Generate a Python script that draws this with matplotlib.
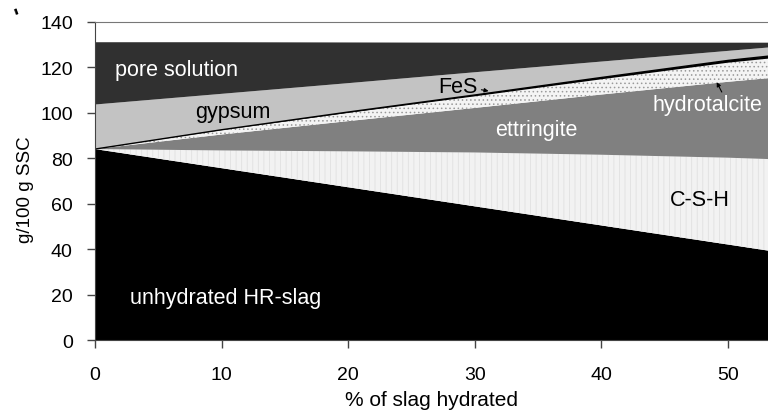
import matplotlib
matplotlib.use("Agg")
import matplotlib.pyplot as plt

plt.rcParams['font.family'] = ['Liberation Sans', 'DejaVu Sans']
plt.rcParams['hatch.linewidth'] = 0.6

# % of slag hydrated
x = [0, 10, 20, 30, 40, 50, 53.2]
# layer thicknesses, g/100 g SSC (bottom to top)
unhydrated = [84.0, 75.6, 67.2, 58.8, 50.4, 42.0, 39.3]
csh = [0.0, 7.8, 15.8, 23.7, 31.1, 38.2, 40.3]
ettringite = [0.0, 7.0, 13.3, 19.6, 26.5, 33.4, 35.6]
hydrotalcite = [0.0, 1.9, 3.6, 5.1, 6.7, 8.4, 8.6]
fes = [0.0, 0.2, 0.4, 0.6, 0.8, 1.0, 1.1]
gypsum = [19.6, 15.8, 12.7, 10.0, 7.0, 4.2, 3.8]
pore = [27.4, 22.7, 17.9, 13.0, 8.3, 3.6, 2.1]

layer_names = ["unhydrated HR-slag", "C-S-H", "ettringite", "hydrotalcite",
               "FeS", "gypsum", "pore solution"]
colors = ["#000000", "#f2f2f2", "#808080", "#f4f4f4", "#000000", "#c3c3c3", "#303030"]
hatches = [None, "|||", None, "....", None, None, None]
hatch_colors = [None, "#e0e0e0", None, "#9a9a9a", None, None, None]

xticks = [0, 10, 20, 30, 40, 50]
yticks = [0, 20, 40, 60, 80, 100, 120, 140]

fig = plt.figure(figsize=(7.68, 4.14), dpi=100)
ax = fig.add_axes([0.1237, 0.1763, 0.8763, 0.7687])

polys = ax.stackplot(x, unhydrated, csh, ettringite, hydrotalcite, fes, gypsum, pore,
                     colors=colors, linewidth=0)
for p, h, hc in zip(polys, hatches, hatch_colors):
    if h:
        p.set_hatch(h)
        p.set_edgecolor(hc)
        p.set_linewidth(0)
# thin black FeS boundary line
fes_top = [u + c + e + h + f for u, c, e, h, f in zip(unhydrated, csh, ettringite, hydrotalcite, fes)]
ax.plot(x, fes_top, color="black", lw=1.0)

ax.set_xlim(0, 53.15)
ax.set_ylim(0, 140)
ax.set_xticks(xticks)
ax.set_yticks(yticks)
ax.tick_params(axis='both', labelsize=14, length=5.5, width=1, color="#444444")
ax.tick_params(axis='y', pad=10.5)
ax.tick_params(axis='x', pad=13)
ax.spines["right"].set_visible(False)
ax.spines["top"].set_color("#777777")
ax.spines["left"].set_color("#444444")
ax.spines["bottom"].set_color("#444444")

ax.set_xlabel("% of slag hydrated", fontsize=15, labelpad=5)
ax.set_ylabel("g/100 g SSC", fontsize=13.5)
ax.yaxis.set_label_coords(-0.091, 0.474)

fs = 15.5
ax.text(1.6, 119, "pore solution", color="white", fontsize=fs, va="center", ha="left")
ax.text(7.9, 100.5, "gypsum", color="black", fontsize=fs, va="center", ha="left")
ax.text(27.1, 111.5, "FeS", color="black", fontsize=fs, va="center", ha="left")
ax.annotate("", xy=(31.3, 109.3), xytext=(30.3, 110.3),
            arrowprops=dict(arrowstyle="-|>", color="black", lw=0.8, mutation_scale=6))
ax.text(31.6, 92.7, "ettringite", color="white", fontsize=fs, va="center", ha="left")
ax.text(44.0, 103.6, "hydrotalcite", color="white", fontsize=fs, va="center", ha="left")
ax.annotate("", xy=(49.0, 114.5), xytext=(49.6, 108.0),
            arrowprops=dict(arrowstyle="-|>", color="black", lw=0.8, mutation_scale=6))
ax.text(45.4, 62, "C-S-H", color="black", fontsize=fs, va="center", ha="left")
ax.text(2.8, 18.5, "unhydrated HR-slag", color="white", fontsize=fs, va="center", ha="left")

fig.text(0.016, 0.985, "'", fontsize=16, fontweight="bold", va="top", ha="left", rotation=20)

fig.savefig("out.png", dpi=100)
